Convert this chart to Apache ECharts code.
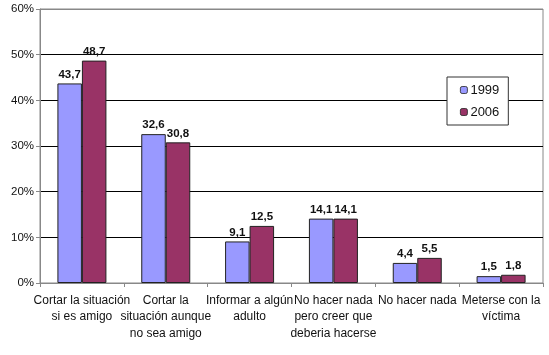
<!DOCTYPE html>
<html>
<head>
<meta charset="utf-8">
<script src="https://cdn.jsdelivr.net/npm/echarts@6/dist/echarts.min.js"></script>
<style>
html,body{margin:0;padding:0;background:#fff;}
#chart{width:549px;height:355px;}
</style>
</head>
<body>
<div id="chart"></div>
<script>
const categories = [
  "Cortar la situación\nsi es amigo",
  "Cortar la\nsituación aunque\nno sea amigo",
  "Informar a algún\nadulto",
  "No hacer nada\npero creer que\ndeberia hacerse",
  "No hacer nada",
  "Meterse con la\nvíctima"
];
const series1999 = [43.7, 32.6, 9.1, 14.1, 4.4, 1.5];
const series2006 = [48.7, 30.8, 12.5, 14.1, 5.5, 1.8];
const yTicks = [0, 10, 20, 30, 40, 50, 60];

const FONT = "Liberation Sans, Arial, sans-serif";
const chart = echarts.init(document.getElementById('chart'), null, {renderer: 'canvas'});
const labelOpt = {
  show: true,
  position: 'top',
  distance: 3,
  fontFamily: FONT,
  fontSize: 11.5,
  fontWeight: 'bold',
  color: '#111',
  formatter: p => String(p.value).replace('.', ',')
};
chart.setOption({
  animation: false,
  backgroundColor: '#fff',
  textStyle: {fontFamily: FONT},
  grid: {left: 40, top: 9, right: 6, bottom: 72, show: true, borderColor: '#888', borderWidth: 1, containLabel: false},
  legend: {
    orient: 'vertical',
    left: 447, top: 77,
    padding: [6, 9, 6, 13],
    itemWidth: 7, itemHeight: 7, itemGap: 8,
    borderColor: '#333', borderWidth: 1,
    backgroundColor: '#fff',
    textStyle: {fontFamily: FONT, fontSize: 13, color: '#111', padding: [0, 0, 0, -2], lineHeight: 14},
    data: [
      {name: '1999', itemStyle: {borderColor: '#222', borderWidth: 0.8}},
      {name: '2006', itemStyle: {borderColor: '#222', borderWidth: 0.8}}
    ]
  },
  xAxis: {
    type: 'category',
    data: categories,
    axisLine: {lineStyle: {color: '#888'}},
    axisTick: {show: true, length: 4, lineStyle: {color: '#888'}},
    axisLabel: {interval: 0, margin: 9, fontFamily: FONT, fontSize: 12, color: '#111', lineHeight: 16.5}
  },
  yAxis: {
    type: 'value',
    min: yTicks[0], max: yTicks[yTicks.length - 1], interval: 10,
    axisLine: {show: true, lineStyle: {color: '#888'}},
    axisTick: {show: true, length: 4, lineStyle: {color: '#888'}},
    axisLabel: {formatter: '{value}%', margin: 6, fontFamily: FONT, fontSize: 11.5, color: '#111'},
    splitLine: {show: true, lineStyle: {color: ['#888', '#000', '#000', '#000', '#000', '#000', '#888'], width: 1}}
  },
  series: [
    {
      name: '1999', type: 'bar', data: series1999,
      barWidth: 24.5, barGap: '0%',
      itemStyle: {color: '#9999FF', borderColor: '#222', borderWidth: 1},
      label: labelOpt
    },
    {
      name: '2006', type: 'bar', data: series2006,
      barWidth: 24.5, barGap: '0%',
      itemStyle: {color: '#993366', borderColor: '#222', borderWidth: 1},
      label: labelOpt
    }
  ]
});
</script>
</body>
</html>
